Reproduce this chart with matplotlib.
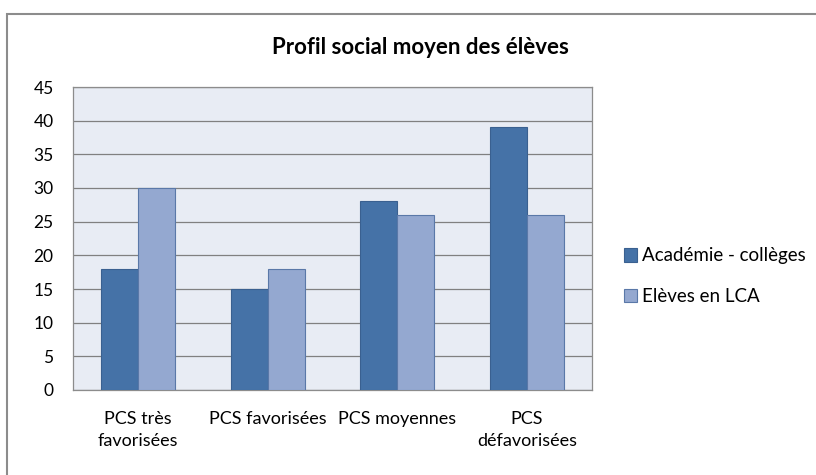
import matplotlib.pyplot as plt
import numpy as np
from matplotlib.patches import Rectangle

categories = ["PCS très\nfavorisées", "PCS favorisées", "PCS moyennes", "PCS\ndéfavorisées"]
academie = [18, 15, 28, 39]
eleves_lca = [30, 18, 26, 26]
series_names = ["Académie - collèges", "Elèves en LCA"]
yticks = [0, 5, 10, 15, 20, 25, 30, 35, 40, 45]

plt.rcParams["font.family"] = ["Lato", "DejaVu Sans"]

W, H = 816, 475
fig = plt.figure(figsize=(W / 100, H / 100), dpi=100)
ax = fig.add_axes([73 / W, 1 - 390 / H, (592 - 73) / W, (390 - 87) / H])

# cadre du graphique
fig.patches.append(Rectangle((7 / W, -0.1), 1.2, 1 - 14 / H + 0.1, transform=fig.transFigure,
                             fill=False, edgecolor="#8c8c8c", linewidth=1.5))

x = np.arange(len(categories))
w = 1 / 3.5
ax.bar(x - w / 2, academie, w, color="#4572a7", edgecolor="#3a6090", linewidth=0.8,
       label=series_names[0], zorder=3)
ax.bar(x + w / 2, eleves_lca, w, color="#94a8d0", edgecolor="#5a78a8", linewidth=0.8,
       label=series_names[1], zorder=3)

ax.set_facecolor("#e8ecf4")
ax.set_xlim(-0.5, len(categories) - 0.5)
ax.set_ylim(0, 45)
ax.set_yticks(yticks)
ax.yaxis.grid(True, color="#808080", linewidth=0.9, zorder=0)
ax.set_axisbelow(True)
for s in ax.spines.values():
    s.set_color("#8c8c8c")
    s.set_linewidth(0.9)
ax.tick_params(axis="both", length=0, colors="#000000")
ax.tick_params(axis="y", pad=14, labelsize=12.5)
ax.tick_params(axis="x", pad=15, labelsize=13)
ax.set_xticks(x)
ax.set_xticklabels(categories, linespacing=1.45)

fig.text(420 / W, 1 - 47 / H, "Profil social moyen des élèves", ha="center", va="center",
         fontsize=16, fontweight="bold")

ax.legend(loc="upper left", bbox_to_anchor=(616 / W, 1 - 240 / H), bbox_transform=fig.transFigure,
          frameon=False, fontsize=13.5, handlelength=0.7, handleheight=0.7, handletextpad=0.3,
          labelspacing=1.25, borderaxespad=0)

fig.savefig("out.png", dpi=100)
